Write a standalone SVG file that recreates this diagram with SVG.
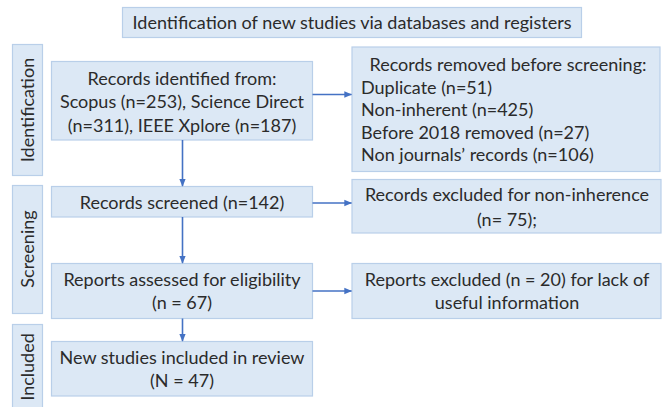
<svg xmlns="http://www.w3.org/2000/svg" width="664" height="407" viewBox="0 0 664 407">
  <style>
    .box { fill: #dce8f5; stroke: #b9cfe9; stroke-width: 1.2; }
    .t { font-family: Lato, "Liberation Sans", sans-serif; font-size: 18px; fill: #2b2b2b; }
    .c { text-anchor: middle; }
    .edge { stroke: #4472c4; stroke-width: 1.6; fill: none; marker-end: url(#arrow); }
  </style>
  <defs>
    <marker id="arrow" viewBox="0 0 10 10" refX="9" refY="5" markerWidth="5" markerHeight="5" orient="auto" markerUnits="strokeWidth">
      <path d="M0,1 L10,5 L0,9 Z" fill="#4472c4"/>
    </marker>
  </defs>
  <rect width="664" height="407" fill="#ffffff"/>

  <!-- header -->
  <g id="title">
    <rect class="box" x="122.5" y="7.5" width="459" height="30"/>
    <text class="t c" x="352" y="28.5">Identification of new studies via databases and registers</text>
  </g>

  <!-- phase labels -->
  <g id="phase-identification">
    <rect class="box" x="12.5" y="44.5" width="30" height="131"/>
    <text class="t c" transform="translate(34,110) rotate(-90)">Identification</text>
  </g>
  <g id="phase-screening">
    <rect class="box" x="12.5" y="185.5" width="30" height="128"/>
    <text class="t c" transform="translate(34,249) rotate(-90)">Screening</text>
  </g>
  <g id="phase-included">
    <rect class="box" x="12.5" y="324.5" width="30" height="90"/>
    <text class="t c" transform="translate(34,367) rotate(-90)">Included</text>
  </g>

  <!-- main column -->
  <g id="records-identified">
    <rect class="box" x="51.5" y="61.5" width="261" height="78.5"/>
    <text class="t c" x="182" y="84.5">Records identified from:</text>
    <text class="t c" x="182" y="108">Scopus (n=253), Science Direct</text>
    <text class="t c" x="182" y="131.5">(n=311), IEEE Xplore (n=187)</text>
  </g>
  <g id="records-screened">
    <rect class="box" x="51.5" y="186.5" width="261" height="30.5"/>
    <text class="t c" x="182" y="209">Records screened (n=142)</text>
  </g>
  <g id="reports-assessed">
    <rect class="box" x="51.5" y="263.5" width="261" height="55"/>
    <text class="t c" x="182" y="286">Reports assessed for eligibility</text>
    <text class="t c" x="182" y="309">(n = 67)</text>
  </g>
  <g id="studies-included">
    <rect class="box" x="51.5" y="341.5" width="261" height="54.5"/>
    <text class="t c" x="182" y="363.5">New studies included in review</text>
    <text class="t c" x="182" y="386.5">(N = 47)</text>
  </g>

  <!-- side column -->
  <g id="records-removed">
    <rect class="box" x="352" y="47" width="308" height="124.5"/>
    <text class="t c" x="508" y="71">Records removed before screening:</text>
    <text class="t" x="361" y="93.5">Duplicate (n=51)</text>
    <text class="t" x="361" y="116">Non-inherent (n=425)</text>
    <text class="t" x="361" y="138.5">Before 2018 removed (n=27)</text>
    <text class="t" x="361" y="161">Non journals’ records (n=106)</text>
  </g>
  <g id="records-excluded">
    <rect class="box" x="352" y="179.5" width="309" height="53.5"/>
    <text class="t c" x="507" y="201">Records excluded for non-inherence</text>
    <text class="t c" x="507" y="226">(n= 75);</text>
  </g>
  <g id="reports-excluded">
    <rect class="box" x="352" y="263.5" width="309" height="55"/>
    <text class="t c" x="507" y="286">Reports excluded (n = 20) for lack of</text>
    <text class="t c" x="507" y="309">useful information</text>
  </g>

  <!-- connectors -->
  <g id="connectors">
    <line class="edge" x1="182.5" y1="140" x2="182.5" y2="186"/>
    <line class="edge" x1="182.5" y1="217" x2="182.5" y2="263"/>
    <line class="edge" x1="182.5" y1="318.5" x2="182.5" y2="341"/>
    <line class="edge" x1="312.5" y1="94.5" x2="351.5" y2="94.5"/>
    <line class="edge" x1="312.5" y1="203" x2="351.5" y2="203"/>
    <line class="edge" x1="312.5" y1="291" x2="351.5" y2="291"/>
  </g>
</svg>
